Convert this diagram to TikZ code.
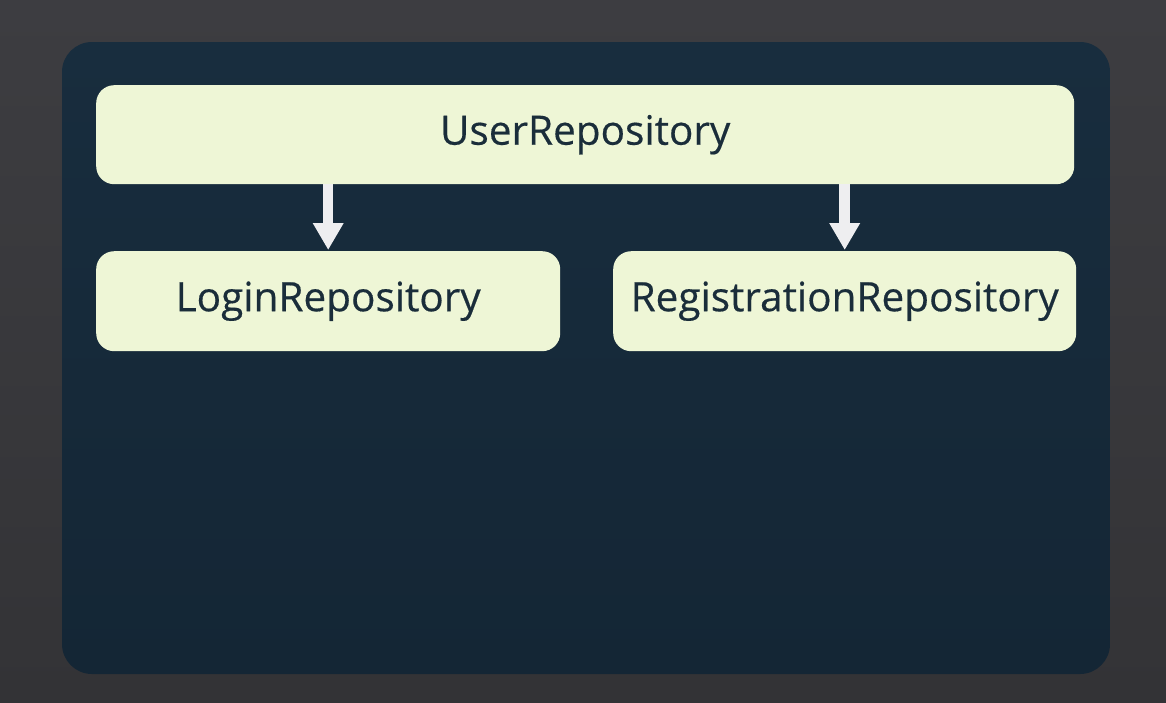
\documentclass[tikz,border=0pt]{standalone}
\usepackage{fontspec}
\setmainfont{Open Sans}
\newfontfamily\repofont[FakeBold=0.4]{Open Sans}
\usetikzlibrary{arrows.meta}
\definecolor{bgtop}{HTML}{3D3D41}
\definecolor{bgbot}{HTML}{333336}
\definecolor{paneltop}{HTML}{182D3E}
\definecolor{panelbot}{HTML}{142635}
\definecolor{boxfill}{HTML}{EEF6D6}
\definecolor{txt}{HTML}{1A2D3A}
\definecolor{arr}{HTML}{EEEEF0}
\tikzset{
  repo/.style={fill=boxfill, rounded corners=18pt, text=txt, font=\repofont\fontsize{40.5}{44}\selectfont, inner sep=0pt, anchor=north west},
  flow/.style={draw=arr, line width=10.5pt, -{Triangle[width=29pt,length=27pt]}, shorten >=1pt}
}
\begin{document}
\begin{tikzpicture}[x=1pt,y=-1pt]
\useasboundingbox (0,0) rectangle (1166,702);
\shade[top color=bgtop, bottom color=bgbot] (0,0) rectangle (1166,702);
\shade[top color=paneltop, bottom color=panelbot, rounded corners=30pt] (62,42) rectangle (1110,674);
\node[repo, minimum width=978pt, minimum height=99pt] (user) at (96,85) {UserRepository};
\node[repo, minimum width=464pt, minimum height=100pt] (login) at (96,251) {LoginRepository};
\node[repo, minimum width=463pt, minimum height=100pt] (reg) at (613,251) {RegistrationRepository};
\draw[flow] (user.south -| login.center) -- (login.north);
\draw[flow] (user.south -| reg.center) -- (reg.north);
\end{tikzpicture}
\end{document}
